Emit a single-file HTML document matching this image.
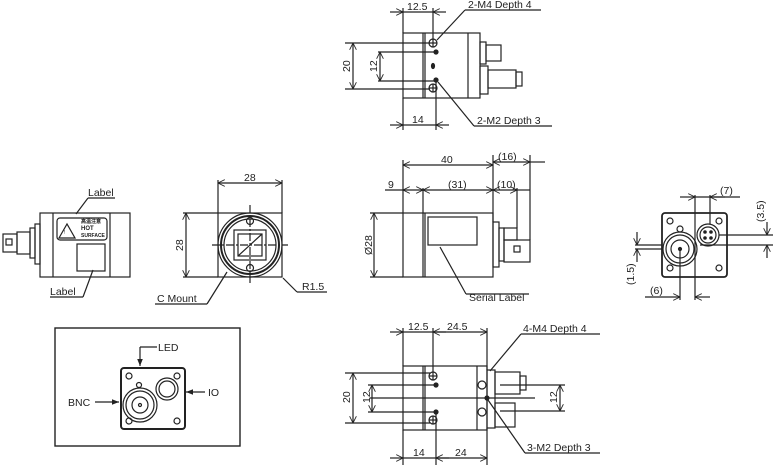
<!DOCTYPE html>
<html><head><meta charset="utf-8"><style>
html,body{margin:0;padding:0;background:#fff;}
svg{display:block;}
text{font-family:"Liberation Sans",sans-serif;font-size:10.5px;fill:#222;}
</style></head><body>
<svg width="773" height="465" viewBox="0 0 773 465" xmlns="http://www.w3.org/2000/svg">
<defs>
<marker id="a" viewBox="0 0 10 10" refX="10" refY="5" markerWidth="6" markerHeight="6" orient="auto-start-reverse"><path d="M0,0 L10,5 L0,10" fill="none" stroke="#222" stroke-width="1.2"/></marker>
<marker id="f" viewBox="0 0 10 10" refX="10" refY="5" markerWidth="6" markerHeight="6" orient="auto"><path d="M0,1 L10,5 L0,9z" fill="#222"/></marker>
</defs>
<g fill="none" stroke="#222" stroke-width="1.2">

<rect x="403" y="33" width="77" height="65"/>
<line x1="423" y1="33" x2="423" y2="98"/>
<line x1="425" y1="33" x2="425" y2="98"/>
<line x1="468" y1="33" x2="468" y2="98"/>
<circle cx="433" cy="43" r="4"/><line x1="429" y1="43" x2="437" y2="43"/><line x1="433" y1="39" x2="433" y2="47"/>
<circle cx="433" cy="88" r="4"/><line x1="429" y1="88" x2="437" y2="88"/><line x1="433" y1="84" x2="433" y2="92"/>
<circle cx="436" cy="52" r="2" fill="#222"/><circle cx="436" cy="80" r="2" fill="#222"/>
<ellipse cx="433" cy="66" rx="1.5" ry="2.5" fill="#222"/>
<rect x="480" y="42" width="6" height="22"/><rect x="486" y="45" width="15" height="16"/>
<rect x="480" y="66" width="8" height="28"/><rect x="488" y="70" width="28" height="18"/><rect x="516" y="72" width="6" height="14"/>
<line x1="403" y1="8" x2="403" y2="33"/><line x1="433" y1="8" x2="433" y2="40"/>
<line x1="390" y1="12" x2="403" y2="12" marker-end="url(#a)"/><line x1="446" y1="12" x2="433" y2="12" marker-end="url(#a)"/><line x1="403" y1="12" x2="433" y2="12"/>
<line x1="437" y1="40" x2="465" y2="10"/><line x1="465" y1="10" x2="541" y2="10"/>
<line x1="345" y1="43" x2="430" y2="43"/><line x1="345" y1="89" x2="430" y2="89"/>
<line x1="353" y1="43" x2="353" y2="89" marker-start="url(#a)" marker-end="url(#a)"/>
<line x1="378" y1="52" x2="434" y2="52"/><line x1="378" y1="81" x2="434" y2="81"/>
<line x1="380" y1="52" x2="380" y2="81" marker-start="url(#a)" marker-end="url(#a)"/>
<line x1="403" y1="98" x2="403" y2="130"/><line x1="436" y1="80" x2="436" y2="130"/>
<line x1="390" y1="125" x2="403" y2="125" marker-end="url(#a)"/><line x1="449" y1="125" x2="436" y2="125" marker-end="url(#a)"/><line x1="403" y1="125" x2="436" y2="125"/>
<line x1="438" y1="82" x2="474" y2="126"/><line x1="474" y1="126" x2="552" y2="126"/>

<rect x="40" y="213" width="90" height="64"/>
<line x1="53" y1="213" x2="53" y2="277"/><line x1="110" y1="213" x2="110" y2="277"/>
<rect x="57" y="218" width="50" height="22" rx="3"/>
<path d="M59,238 L67,224 L75,238z"/>
<rect x="77" y="244" width="28" height="27"/>
<rect x="35" y="224" width="5" height="40"/><rect x="30" y="228" width="5" height="30"/>
<rect x="17" y="232" width="13" height="22"/><rect x="3" y="234" width="14" height="18"/>
<rect x="6" y="239" width="6" height="6"/>
<line x1="76" y1="214" x2="88" y2="198"/><line x1="88" y1="198" x2="115" y2="198"/>
<line x1="93" y1="270" x2="83" y2="297"/><line x1="83" y1="297" x2="50" y2="297"/>

<rect x="218" y="213" width="64" height="64"/>
<circle cx="250" cy="245" r="32"/><circle cx="250" cy="245" r="29" stroke-width="2"/><circle cx="250" cy="245" r="26"/>
<rect x="234" y="230" width="32" height="30"/><rect x="238" y="234" width="24" height="22"/>
<line x1="238" y1="256" x2="262" y2="234"/>
<line x1="212" y1="245" x2="288" y2="245" stroke-dasharray="8 2 2 2"/>
<line x1="250" y1="205" x2="250" y2="285" stroke-dasharray="8 2 2 2"/>
<circle cx="250" cy="221" r="3.5"/><circle cx="250" cy="268" r="3.5"/>
<line x1="218" y1="180" x2="218" y2="213"/><line x1="282" y1="180" x2="282" y2="213"/>
<line x1="218" y1="183" x2="282" y2="183" marker-start="url(#a)" marker-end="url(#a)"/>
<line x1="183" y1="213" x2="218" y2="213"/><line x1="183" y1="277" x2="218" y2="277"/>
<line x1="186" y1="213" x2="186" y2="277" marker-start="url(#a)" marker-end="url(#a)"/>
<line x1="227" y1="272" x2="207" y2="304"/><line x1="207" y1="304" x2="155" y2="304"/>
<line x1="283" y1="278" x2="297" y2="292"/><line x1="297" y1="292" x2="327" y2="292"/>

<rect x="403" y="213" width="90" height="64"/>
<line x1="423" y1="213" x2="423" y2="277"/><line x1="425" y1="213" x2="425" y2="277"/>
<rect x="428" y="217" width="49" height="28"/>
<rect x="493" y="222" width="6" height="45"/><rect x="499" y="228" width="5" height="33"/>
<rect x="504" y="228" width="13" height="12"/><rect x="504" y="240" width="26" height="22"/>
<rect x="514" y="246" width="6" height="6"/>
<line x1="403" y1="160" x2="403" y2="213"/><line x1="493" y1="155" x2="493" y2="222"/><line x1="530" y1="155" x2="530" y2="240"/><line x1="517" y1="188" x2="517" y2="228"/>
<line x1="423" y1="188" x2="423" y2="213"/>
<line x1="403" y1="165" x2="493" y2="165" marker-start="url(#a)" marker-end="url(#a)"/>
<line x1="493" y1="162" x2="530" y2="162" marker-start="url(#a)" marker-end="url(#a)"/><line x1="530" y1="162" x2="545" y2="162"/>
<line x1="385" y1="190" x2="403" y2="190"/>
<line x1="403" y1="190" x2="423" y2="190" marker-start="url(#a)" marker-end="url(#a)"/>
<line x1="423" y1="190" x2="493" y2="190" marker-start="url(#a)" marker-end="url(#a)"/>
<line x1="493" y1="190" x2="517" y2="190" marker-start="url(#a)" marker-end="url(#a)"/><line x1="517" y1="190" x2="530" y2="190"/>
<line x1="370" y1="213" x2="403" y2="213"/><line x1="370" y1="277" x2="403" y2="277"/>
<line x1="374" y1="213" x2="374" y2="277" marker-start="url(#a)" marker-end="url(#a)"/>
<line x1="440" y1="247" x2="466" y2="294"/><line x1="466" y1="294" x2="529" y2="294"/>

<rect x="662" y="213" width="65" height="64" rx="3" stroke-width="1.8"/>
<circle cx="670" cy="221" r="3"/><circle cx="719" cy="221" r="3"/><circle cx="670" cy="268" r="3"/><circle cx="719" cy="268" r="3"/>
<circle cx="680" cy="249" r="17"/><circle cx="680" cy="249" r="14"/><circle cx="680" cy="249" r="9"/><circle cx="680" cy="249" r="1.5" fill="#222"/>
<circle cx="680" cy="229" r="3"/>
<circle cx="708" cy="235" r="11"/><circle cx="708" cy="235" r="8"/>
<circle cx="705" cy="232" r="1.2" fill="#222"/><circle cx="711" cy="232" r="1.2" fill="#222"/><circle cx="705" cy="238" r="1.2" fill="#222"/><circle cx="711" cy="238" r="1.2" fill="#222"/>
<line x1="695" y1="195" x2="695" y2="300"/><line x1="710" y1="195" x2="710" y2="224"/><line x1="680" y1="249" x2="680" y2="300"/>
<line x1="680" y1="197" x2="695" y2="197" marker-end="url(#a)"/><line x1="725" y1="197" x2="710" y2="197" marker-end="url(#a)"/><line x1="695" y1="197" x2="740" y2="197"/>
<line x1="645" y1="297" x2="680" y2="297" marker-end="url(#a)"/><line x1="710" y1="297" x2="695" y2="297" marker-end="url(#a)"/>
<line x1="635" y1="245" x2="662" y2="245"/><line x1="635" y1="249" x2="662" y2="249"/>
<line x1="637" y1="232" x2="637" y2="245" marker-end="url(#a)"/><line x1="637" y1="262" x2="637" y2="249" marker-end="url(#a)"/>
<line x1="719" y1="235" x2="773" y2="235"/><line x1="700" y1="245" x2="773" y2="245"/>
<line x1="767" y1="222" x2="767" y2="235" marker-end="url(#a)"/><line x1="767" y1="258" x2="767" y2="245" marker-end="url(#a)"/>

<rect x="55" y="328" width="185" height="118" stroke-width="1.4"/>
<rect x="121" y="368" width="64" height="61" rx="3" stroke-width="2"/>
<circle cx="129" cy="376" r="3"/><circle cx="177" cy="376" r="3"/><circle cx="129" cy="421" r="3"/><circle cx="177" cy="421" r="3"/>
<circle cx="140" cy="405" r="17"/><circle cx="140" cy="405" r="14"/><circle cx="140" cy="405" r="8"/><circle cx="140" cy="405" r="1.5"/>
<circle cx="139" cy="385" r="2.5"/>
<circle cx="167" cy="389" r="11"/><circle cx="167" cy="389" r="8"/>
<path d="M140,347 L157,347" /><line x1="140" y1="347" x2="140" y2="366" marker-end="url(#f)"/>
<line x1="95" y1="402" x2="119" y2="402" marker-end="url(#f)"/>
<line x1="205" y1="392" x2="186" y2="392" marker-end="url(#f)"/>

<rect x="403" y="366" width="84" height="64"/>
<line x1="423" y1="366" x2="423" y2="430"/><line x1="425" y1="366" x2="425" y2="430"/><line x1="477" y1="366" x2="477" y2="430"/>
<circle cx="433" cy="376" r="4"/><line x1="429" y1="376" x2="437" y2="376"/><line x1="433" y1="372" x2="433" y2="380"/>
<circle cx="433" cy="420" r="4"/><line x1="429" y1="420" x2="437" y2="420"/><line x1="433" y1="416" x2="433" y2="424"/>
<circle cx="482" cy="385" r="4"/><circle cx="482" cy="412" r="4"/>
<circle cx="436" cy="385" r="2" fill="#222"/><circle cx="436" cy="412" r="2" fill="#222"/><circle cx="487" cy="398" r="2" fill="#222"/>
<rect x="487" y="370" width="8" height="58"/><rect x="495" y="372" width="25" height="22"/><rect x="520" y="376" width="6" height="14"/>
<rect x="495" y="403" width="20" height="24"/>
<line x1="370" y1="398" x2="535" y2="398"/>
<line x1="403" y1="328" x2="403" y2="366"/><line x1="433" y1="328" x2="433" y2="372"/><line x1="487" y1="328" x2="487" y2="370"/>
<line x1="390" y1="332" x2="403" y2="332" marker-end="url(#a)"/><line x1="403" y1="332" x2="433" y2="332"/><line x1="446" y1="332" x2="433" y2="332" marker-end="url(#a)"/>
<line x1="433" y1="332" x2="487" y2="332" marker-end="url(#a)"/>
<line x1="345" y1="373" x2="430" y2="373"/><line x1="345" y1="423" x2="430" y2="423"/>
<line x1="353" y1="373" x2="353" y2="423" marker-start="url(#a)" marker-end="url(#a)"/>
<line x1="368" y1="385" x2="434" y2="385"/><line x1="368" y1="412" x2="434" y2="412"/>
<line x1="372" y1="385" x2="372" y2="412" marker-start="url(#a)" marker-end="url(#a)"/>
<line x1="500" y1="385" x2="565" y2="385"/><line x1="500" y1="411" x2="565" y2="411"/>
<line x1="560" y1="385" x2="560" y2="411" marker-start="url(#a)" marker-end="url(#a)"/>
<line x1="403" y1="430" x2="403" y2="465"/><line x1="436" y1="412" x2="436" y2="465"/><line x1="487" y1="428" x2="487" y2="465"/>
<line x1="390" y1="458" x2="403" y2="458" marker-end="url(#a)"/><line x1="403" y1="458" x2="436" y2="458"/><line x1="449" y1="458" x2="436" y2="458" marker-end="url(#a)"/>
<line x1="436" y1="458" x2="487" y2="458" marker-end="url(#a)"/>
<line x1="490" y1="371" x2="521" y2="334"/><line x1="521" y1="334" x2="600" y2="334"/>
<line x1="488" y1="400" x2="525" y2="453"/><line x1="525" y1="453" x2="600" y2="453"/>
</g>

<text x="407" y="10">12.5</text>
<text x="468" y="8">2-M4 Depth 4</text>
<text x="350" y="72" transform="rotate(-90 350 72)">20</text>
<text x="377" y="72" transform="rotate(-90 377 72)">12</text>
<text x="412" y="123">14</text>
<text x="477" y="124">2-M2 Depth 3</text>

<text x="88" y="196">Label</text>
<text x="50" y="295">Label</text>
<text x="64" y="234" style="font-size:5px">!</text>
<text x="81" y="223" style="font-size:5px;font-weight:bold">高温注意</text>
<text x="81" y="230" style="font-size:6px;font-weight:bold">HOT</text>
<text x="81" y="237" style="font-size:5px;font-weight:bold">SURFACE</text>

<text x="244" y="181">28</text>
<text x="183" y="251" transform="rotate(-90 183 251)">28</text>
<text x="157" y="302">C Mount</text>
<text x="302" y="290">R1.5</text>

<text x="441" y="163">40</text>
<text x="498" y="160">(16)</text>
<text x="388" y="188">9</text>
<text x="448" y="188">(31)</text>
<text x="497" y="188">(10)</text>
<text x="372" y="255" transform="rotate(-90 372 255)">Ø28</text>
<text x="469" y="301">Serial Label</text>

<text x="720" y="194">(7)</text>
<text x="650" y="294">(6)</text>
<text x="634" y="285" transform="rotate(-90 634 285)">(1.5)</text>
<text x="764" y="222" transform="rotate(-90 764 222)">(3.5)</text>

<text x="158" y="351">LED</text>
<text x="68" y="406">BNC</text>
<text x="208" y="396">IO</text>

<text x="408" y="330">12.5</text>
<text x="447" y="330">24.5</text>
<text x="523" y="332">4-M4 Depth 4</text>
<text x="350" y="403" transform="rotate(-90 350 403)">20</text>
<text x="370" y="403" transform="rotate(-90 370 403)">12</text>
<text x="557" y="403" transform="rotate(-90 557 403)">12</text>
<text x="413" y="456">14</text>
<text x="455" y="456">24</text>
<text x="527" y="451">3-M2 Depth 3</text>
</svg>
</body></html>
